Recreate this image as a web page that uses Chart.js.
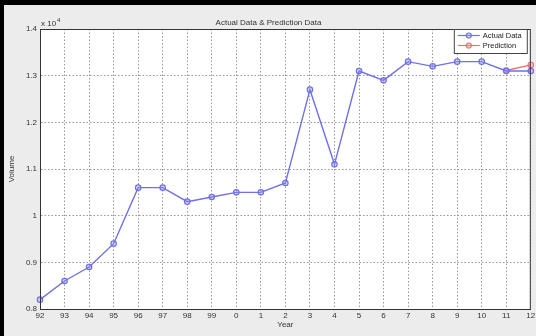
<!DOCTYPE html>
<html>
<head>
<meta charset="utf-8">
<title>Actual Data & Prediction Data</title>
<script src="https://cdn.jsdelivr.net/npm/chart.js@4"></script>
<style>
  body { margin: 0; background: #ececec; }
  #wrap {
    width: 536px; height: 336px; box-sizing: border-box;
    border-left: 4px solid #000; border-top: 5px solid #000;
    background: #ececec;
  }
  canvas { display: block; }
</style>
</head>
<body>
<div id="wrap"><canvas id="volumeChart" width="532" height="331"></canvas></div>
<script>
// years shown on the x axis
const years = ['92', '93', '94', '95', '96', '97', '98', '99', '0', '1', '2', '3', '4', '5', '6', '7', '8', '9', '10', '11', '12'];

// volume
const actualData = [8200, 8600, 8900, 9400, 10600, 10600, 10300, 10400, 10500, 10500, 10700, 12700, 11100, 13100, 12900, 13300, 13200, 13300, 13300, 13100, 13100];
const predictionData = [null, null, null, null, null, null, null, null, null, null, null, null, null, null, null, null, null, null, null, 13110, 13230];

const yMin = 8000;
const yMax = 14000;
const yStep = 1000;

const FONT = 'Liberation Sans, Arial, sans-serif';
const blue = '#6f6fe6';
const red = '#ee7070';

// white plot area + solid box round it, like matlab "box on"
const plotBox = {
  id: 'plotBox',
  beforeDraw(chart) {
    const a = chart.chartArea;
    const ctx = chart.ctx;
    ctx.save();
    ctx.fillStyle = '#fff';
    ctx.fillRect(a.left, a.top, a.right - a.left, a.bottom - a.top);
    ctx.restore();
  },
  afterDraw(chart) {
    const a = chart.chartArea;
    const ctx = chart.ctx;
    ctx.save();
    ctx.strokeStyle = '#333';
    ctx.lineWidth = 1;
    ctx.strokeRect(a.left + 0.5, a.top + 0.5, a.right - a.left - 1, a.bottom - a.top);

    // exponent label
    ctx.fillStyle = '#333';
    ctx.font = '8px ' + FONT;
    ctx.textBaseline = 'alphabetic';
    ctx.fillText('x 10', a.left + 1, a.top - 3);
    ctx.font = '6px ' + FONT;
    ctx.fillText('4', a.left + 17, a.top - 7);

    // legend box
    const lx = a.right - 77, ly = a.top, lw = 73, lh = 24;
    ctx.fillStyle = '#fff';
    ctx.fillRect(lx, ly, lw, lh);
    ctx.strokeStyle = '#444';
    ctx.strokeRect(lx + 0.5, ly + 0.5, lw, lh);
    chart.data.datasets.forEach((ds, i) => {
      const y = ly + 6.5 + i * 10;
      ctx.strokeStyle = ds.borderColor;
      ctx.lineWidth = 1.2;
      ctx.beginPath();
      ctx.moveTo(lx + 4, y);
      ctx.lineTo(lx + 26, y);
      ctx.stroke();
      ctx.beginPath();
      ctx.arc(lx + 15, y, 2.5, 0, Math.PI * 2);
      ctx.fillStyle = ds.pointBackgroundColor;
      ctx.fill();
      ctx.stroke();
      ctx.fillStyle = '#222';
      ctx.font = '7.5px ' + FONT;
      ctx.textBaseline = 'middle';
      ctx.fillText(ds.label, lx + 29, y + 0.5);
    });
    ctx.restore();
  }
};

const ctx = document.getElementById('volumeChart').getContext('2d');
new Chart(ctx, {
  type: 'line',
  data: {
    labels: years,
    datasets: [
      {
        label: 'Actual Data',
        data: actualData,
        borderColor: blue,
        backgroundColor: blue,
        pointBackgroundColor: 'rgba(150,150,240,0.35)',
        pointBorderColor: blue,
        pointRadius: 2.7,
        pointBorderWidth: 1.2,
        borderWidth: 1.4,
        tension: 0,
        fill: false
      },
      {
        label: 'Prediction',
        data: predictionData,
        borderColor: red,
        backgroundColor: red,
        pointBackgroundColor: 'rgba(240,150,150,0.35)',
        pointBorderColor: red,
        pointRadius: 2.7,
        pointBorderWidth: 1.2,
        borderWidth: 1.4,
        tension: 0,
        fill: false
      }
    ]
  },
  options: {
    responsive: false,
    animation: false,
    events: [],
    layout: { padding: { left: 0, right: 3, top: 0, bottom: 0 } },
    plugins: {
      legend: { display: false },
      tooltip: { enabled: false },
      title: {
        display: true,
        text: 'Actual Data & Prediction Data',
        color: '#333',
        font: { family: FONT, size: 8, weight: 'normal' },
        padding: { top: 12.5, bottom: 1.9 }
      }
    },
    scales: {
      x: {
        offset: false,
        grid: { color: '#999', drawTicks: false, lineWidth: 1 },
        border: { display: true, color: '#333', dash: [1.5, 2] },
        ticks: {
          color: '#333', font: { family: FONT, size: 8 }, padding: 2,
          maxRotation: 0, autoSkip: false
        },
        title: {
          display: true, text: 'Year', color: '#333',
          font: { family: FONT, size: 8 }, padding: { top: 0, bottom: 6 }
        },
        afterFit(scale) {
          scale.height = 27;
          scale.paddingLeft = 0;
          scale.paddingRight = 0;
        }
      },
      y: {
        min: yMin,
        max: yMax,
        grid: { color: '#999', drawTicks: false, lineWidth: 1 },
        border: { display: true, color: '#333', dash: [1.5, 2] },
        ticks: {
          stepSize: yStep,
          color: '#333', font: { family: FONT, size: 8 }, padding: 3,
          callback: v => String(Math.round(v / 1000) / 10)
        },
        title: {
          display: true, text: 'Volume', color: '#333',
          font: { family: FONT, size: 8 }, padding: { top: 3, bottom: 0 }
        },
        afterFit(scale) {
          scale.width = 36;
          scale.paddingTop = 0;
          scale.paddingBottom = 0;
        }
      }
    }
  },
  plugins: [plotBox]
});
</script>
</body>
</html>
